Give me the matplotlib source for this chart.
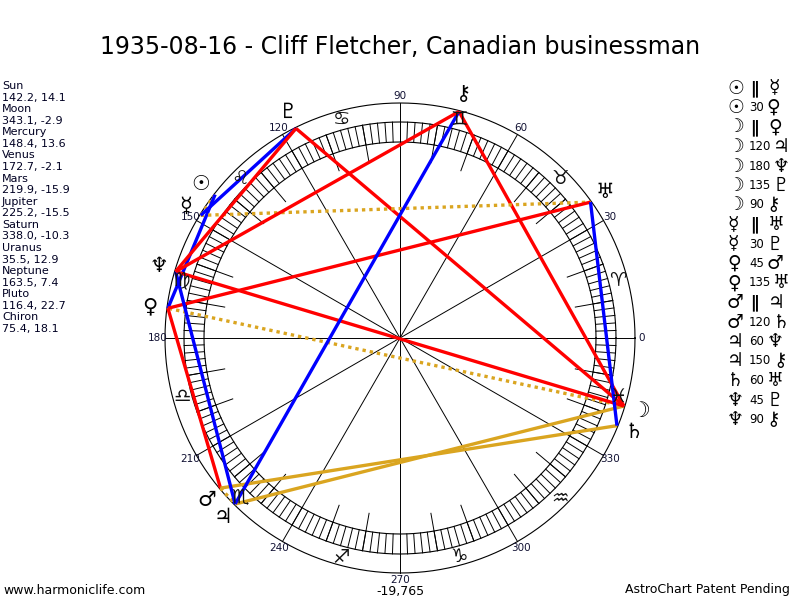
import numpy as np
import matplotlib
matplotlib.use("Agg")
import matplotlib.pyplot as plt

plt.rcParams['font.family'] = ['DejaVu Sans']

# planets: name, glyph, longitude, declination
names = ['Sun', 'Moon', 'Mercury', 'Venus', 'Mars', 'Jupiter', 'Saturn',
         'Uranus', 'Neptune', 'Pluto', 'Chiron']
glyphs = ['\u2609', '\u263D', '\u263F', '\u2640', '\u2642', '\u2643', '\u2644',
          '\u2645', '\u2646', '\u2647', '\u26B7']
lons = [142.2, 343.1, 148.4, 172.7, 219.9, 225.2, 338.0, 35.5, 163.5, 116.4, 75.4]
decls = [14.1, -2.9, 13.6, -2.1, -15.9, -15.5, -10.3, 12.9, 7.4, 22.7, 18.1]

# aspects (index into planets), kind: 'par' = parallel or angle
asp_a = [0, 0, 1, 1, 1, 1, 1, 2, 2, 3, 3, 4, 4, 5, 5, 6, 8, 8]
asp_b = [2, 3, 3, 5, 8, 9, 10, 7, 9, 4, 7, 5, 6, 8, 10, 7, 9, 10]
asp_kind = ['par', '30', 'par', '120', '180', '135', '90', 'par', '30', '45',
            '135', 'par', '120', '60', '150', '60', '45', '90']

zodiac = ['\u2648', '\u2649', '\u264A', '\u264B', '\u264C', '\u264D',
          '\u264E', '\u264F', '\u2650', '\u2651', '\u2652', '\u2653']

cx, cy = 400, 338
R_OUT = 235
R_BAND_IN, R_BAND_OUT = 196, 216

colors = {'par': '#DAA520', '120': '#DAA520',
          '30': '#0000FF', '60': '#0000FF', '150': '#0000FF',
          '45': '#FF0000', '90': '#FF0000', '135': '#FF0000', '180': '#FF0000'}


def pos(deg, r):
    a = np.radians(deg)
    return cx + r * np.cos(a), cy - r * np.sin(a)


fig = plt.figure(figsize=(8, 6), dpi=100)
ax = fig.add_axes([0, 0, 1, 1])
ax.set_xlim(0, 800)
ax.set_ylim(600, 0)
ax.axis('off')

# circles
t = np.linspace(0, 360, 721)
for r in [R_OUT, R_BAND_OUT, R_BAND_IN]:
    x, y = pos(t, r)
    ax.plot(x, y, color='black', lw=0.8)

# hatch band every 2 degrees
for d in range(0, 360, 2):
    x0, y0 = pos(d, R_BAND_IN)
    x1, y1 = pos(d, R_BAND_OUT)
    ax.plot([x0, x1], [y0, y1], color='black', lw=0.7)

# 10-degree ticks
for d in range(0, 360, 10):
    if d % 30:
        x0, y0 = pos(d, 178)
        x1, y1 = pos(d, R_BAND_OUT)
        ax.plot([x0, x1], [y0, y1], color='black', lw=0.7)

# diameters every 30 degrees, with labels
for d in range(0, 360, 30):
    x1, y1 = pos(d, R_OUT)
    ax.plot([cx, x1], [cy, y1], color='black', lw=0.7)
    lx, ly = pos(d, 242)
    ax.text(lx, ly, str(d), fontsize=7.5, ha='center', va='center',
            color='#111133')

# zodiac signs
for i, z in enumerate(zodiac):
    zx, zy = pos(15 + 30 * i, 226)
    ax.text(zx, zy, z, fontsize=14, ha='center', va='center', color='#111111')

# aspect lines
for a, b, k in zip(asp_a, asp_b, asp_kind):
    xa, ya = pos(lons[a], 234)
    xb, yb = pos(lons[b], 234)
    if k == 'par':
        ax.plot([xa, xb], [ya, yb], color=colors[k], lw=2.4,
                linestyle=(0, (1, 1.2)))
    else:
        ax.plot([xa, xb], [ya, yb], color=colors[k], lw=2.4,
                solid_capstyle='butt')

# planet glyphs
for g, lon in zip(glyphs, lons):
    gx, gy = pos(lon, 252)
    ax.text(gx, gy, g, fontsize=15, ha='center', va='center', color='black')

# title
ax.text(400, 47, '1935-08-16 - Cliff Fletcher, Canadian businessman',
        fontsize=17, ha='center', va='center')

# left panel
for i, (n, lon, dec) in enumerate(zip(names, lons, decls)):
    y = 86 + i * 2 * 11.57
    ax.text(2, y, n, fontsize=8, ha='left', va='center', color='#000022')
    ax.text(2, y + 11.57, f'{lon:.1f}, {dec:.1f}', fontsize=8, ha='left',
            va='center', color='#000022')

# right panel: aspect list
for i, (a, b, k) in enumerate(zip(asp_a, asp_b, asp_kind)):
    y = 88 + i * 19.5
    ax.text(727, y, glyphs[a], fontsize=13.5, ha='left', va='center')
    if k == 'par':
        ax.text(750, y, '\u2225', fontsize=12, ha='left', va='center',
                fontweight='bold')
        x2 = 768
    else:
        ax.text(749, y, k, fontsize=8.5, ha='left', va='center')
        x2 = 749 + 6.3 * len(k) + 5
    ax.text(x2, y, glyphs[b], fontsize=13.5, ha='left', va='center')

# footer
ax.text(3, 590, 'www.harmoniclife.com', fontsize=9, ha='left', va='center')
ax.text(400, 591, '-19,765', fontsize=9, ha='center', va='center')
ax.text(790, 590, 'AstroChart Patent Pending', fontsize=9, ha='right',
        va='center')

fig.savefig('out.png', dpi=100)
